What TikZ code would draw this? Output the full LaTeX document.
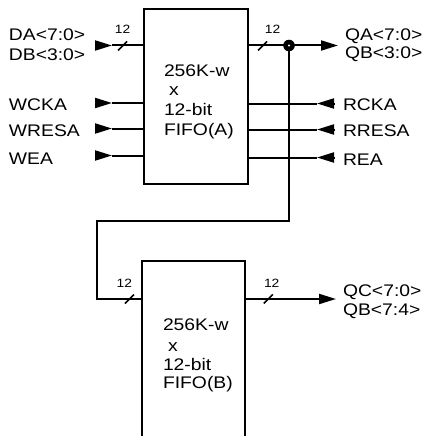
\documentclass[tikz,border=0pt]{standalone}
\usepackage{fontspec}
\setmainfont{Liberation Sans}[FakeStretch=1.15]
\usetikzlibrary{arrows.meta}
\begin{document}
\begin{tikzpicture}[x=1pt,y=-1pt, line width=2pt,
  lbl/.style={anchor=base west, inner sep=0pt, font=\fontsize{16.8}{19}\selectfont},
  num/.style={anchor=base, inner sep=0pt, font=\fontsize{12}{13}\selectfont},
  tip/.style={-{Triangle[length=17pt,width=10pt]}},
  slash/.style={line width=1.6pt}]
\useasboundingbox (0,0) rectangle (423,436);

% ---- FIFO A box
\node[draw, minimum width=104pt, minimum height=175pt, inner sep=0pt, anchor=north west] (fifoA) at (143,8) {};
\node[lbl] (tA1) at (163,77) {256K-w};
\node[lbl] (tA2) at (168,95) {x};
\node[lbl] (tA3) at (163,115) {12-bit};
\node[lbl] (tA4) at (163,135) {FIFO(A)};

% ---- FIFO B box (open at bottom)
\coordinate (bBL) at (142,436);
\coordinate (bTL) at (142,261);
\coordinate (bTR) at (245,261);
\coordinate (bBR) at (245,436);
\draw (bBL) -- (bTL) -- (bTR) -- (bBR);
\node[lbl] (tB1) at (162,330) {256K-w};
\node[lbl] (tB2) at (167,351) {x};
\node[lbl] (tB3) at (162,370) {12-bit};
\node[lbl] (tB4) at (162,388) {FIFO(B)};

% ---- left inputs of A
\node[lbl] (lDA) at (8,41) {DA<7:0>};
\node[lbl] (lDB) at (8,60) {DB<3:0>};
\coordinate (dS) at (95,45.5); \coordinate (dT) at (112,45.5);
\draw[tip] (dS) -- (dT);
\draw (dT) -- (fifoA.west |- dT);
\draw[slash] (122.5,46) ++(-4.5,4.5) -- ++(9,-9);
\node[num] (nA1) at (122.5,34) {12};

\node[lbl] (lWCKA) at (8,110) {WCKA};
\node[lbl] (lWRESA) at (8,136) {WRESA};
\node[lbl] (lWEA) at (8,164) {WEA};
\coordinate (w1S) at (95,103); \coordinate (w1T) at (112,103);
\coordinate (w2S) at (95,128.5); \coordinate (w2T) at (112,128.5);
\coordinate (w3S) at (95,155.5); \coordinate (w3T) at (112,155.5);
\draw[tip] (w1S) -- (w1T); \draw (w1T) -- (fifoA.west |- w1T);
\draw[tip] (w2S) -- (w2T); \draw (w2T) -- (fifoA.west |- w2T);
\draw[tip] (w3S) -- (w3T); \draw (w3T) -- (fifoA.west |- w3T);

% ---- right side of A
\node[lbl] (lQA) at (344,41) {QA<7:0>};
\node[lbl] (lQB) at (344,59) {QB<3:0>};
\coordinate (qT) at (338,45.5);
\draw[tip] (fifoA.east |- qT) -- (qT);
\draw[slash] (262.5,46) ++(-4.5,4.5) -- ++(9,-9);
\node[num] (nA2) at (272.5,34) {12};

\node[lbl] (lRCKA) at (342,110) {RCKA};
\node[lbl] (lRRESA) at (342,136.5) {RRESA};
\node[lbl] (lREA) at (342,165) {REA};
\coordinate (r1S) at (334,103.5); \coordinate (r1T) at (317,103.5);
\coordinate (r2S) at (334,129.5); \coordinate (r2T) at (317,129.5);
\coordinate (r3S) at (334,157.5); \coordinate (r3T) at (317,157.5);
\draw[tip] (r1S) -- (r1T); \draw (r1T) -- (fifoA.east |- r1T);
\draw[tip] (r2S) -- (r2T); \draw (r2T) -- (fifoA.east |- r2T);
\draw[tip] (r3S) -- (r3T); \draw (r3T) -- (fifoA.east |- r3T);

% ---- feedback from A output to B input
\coordinate (j) at (289,45.5);
\coordinate (c1) at (289,220.5);
\coordinate (c2) at (97,220.5);
\coordinate (c3) at (97,299);
\coordinate (bIn) at (142,299);
\draw (j) -- (c1) -- (c2) -- (c3) -- (bIn);
\fill (j) circle (5.8);
\fill[white] (j) circle (1.2);
\draw[slash] (129.5,299) ++(-4.5,4.5) -- ++(9,-9);
\node[num] (nB1) at (124.3,287.5) {12};

% ---- output of B
\coordinate (bOut) at (245,299);
\coordinate (qcT) at (336,299);
\draw[tip] (bOut) -- (qcT);
\draw[slash] (268.3,299) ++(-4.5,4.5) -- ++(9,-9);
\node[num] (nB2) at (271.7,287.5) {12};
\node[lbl] (lQC) at (342,296.5) {QC<7:0>};
\node[lbl] (lQB2) at (342,315) {QB<7:4>};
\end{tikzpicture}
\end{document}
